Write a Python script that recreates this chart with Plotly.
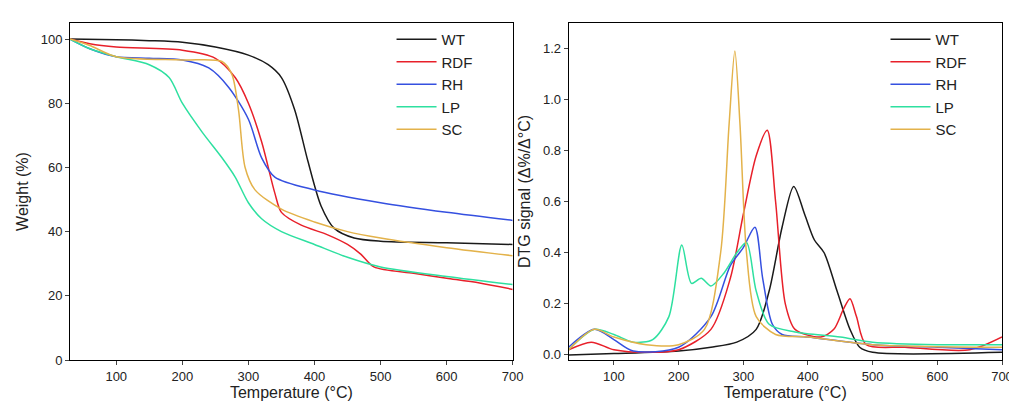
import plotly.graph_objects as go
from plotly.subplots import make_subplots

names = ["WT", "RDF", "RH", "LP", "SC"]
colors = ["#1a1a1a", "#e8202a", "#3550e0", "#2ee0a0", "#e3b24a"]

# TG curves (temperature, weight %)
tg_t = {
    "WT": [30, 100, 150, 200, 250, 300, 330, 350, 370, 390, 410, 430, 460, 500, 600, 700],
    "RDF": [30, 60, 100, 200, 250, 280, 300, 320, 340, 350, 380, 420, 450, 470, 490, 550, 600, 650, 700],
    "RH": [30, 60, 100, 150, 200, 240, 270, 300, 320, 340, 400, 500, 600, 700],
    "LP": [30, 60, 100, 150, 180, 200, 230, 260, 280, 300, 320, 350, 400, 450, 500, 600, 700],
    "SC": [30, 60, 100, 200, 260, 275, 285, 295, 310, 350, 400, 450, 500, 600, 700],
}
tg_w = {
    "WT": [100, 99.8, 99.5, 99, 97.5, 95, 92, 88, 78, 62, 48, 41, 38, 37, 36.5, 36],
    "RDF": [100, 98.5, 97.5, 96.5, 94, 88, 80, 68, 52, 46, 42, 39, 36, 33, 29, 27, 25.5, 24, 22],
    "RH": [100, 97, 94.5, 94, 93.5, 91, 85, 75, 63, 57, 53, 49, 46, 43.5],
    "LP": [100, 97, 94.5, 92, 88, 80, 71, 63, 57, 49, 44, 40, 36, 32, 29, 26, 23.5],
    "SC": [100, 98, 94.5, 93.5, 93, 89, 78, 60, 53, 47, 43, 40, 38, 35, 32.5],
}

# DTG curves (temperature, %/°C)
dtg_t = {
    "WT": [30, 100, 200, 250, 290, 320, 340, 360, 378, 395, 410, 425, 445, 465, 480, 500, 700],
    "RDF": [30, 65, 100, 150, 200, 250, 280, 300, 320, 337, 350, 365, 380, 420, 440, 455, 465, 475, 490, 550, 650, 700],
    "RH": [30, 70, 100, 130, 200, 250, 280, 300, 318, 330, 345, 360, 400, 500, 600, 700],
    "LP": [30, 70, 100, 130, 160, 185, 205, 220, 235, 250, 270, 290, 305, 320, 340, 380, 450, 500, 600, 700],
    "SC": [30, 70, 100, 150, 200, 240, 265, 278, 287, 295, 305, 320, 350, 400, 500, 700],
}
dtg_v = {
    "WT": [0, 0.005, 0.015, 0.03, 0.05, 0.1, 0.25, 0.5, 0.66, 0.55, 0.45, 0.4, 0.25, 0.1, 0.03, 0.01, 0.01],
    "RDF": [0.02, 0.05, 0.02, 0.01, 0.02, 0.1, 0.3, 0.55, 0.78, 0.88, 0.6, 0.2, 0.1, 0.07, 0.1, 0.18, 0.22, 0.15, 0.04, 0.03, 0.02, 0.07],
    "RH": [0.03, 0.1, 0.06, 0.015, 0.03, 0.15, 0.35, 0.42, 0.5, 0.3, 0.12, 0.08, 0.07, 0.04, 0.03, 0.02],
    "LP": [0.02, 0.1, 0.08, 0.05, 0.06, 0.15, 0.43, 0.28, 0.3, 0.27, 0.32, 0.4, 0.44, 0.25, 0.12, 0.09, 0.07, 0.05, 0.04, 0.04],
    "SC": [0.02, 0.1, 0.07, 0.04, 0.04, 0.1, 0.4, 0.9, 1.19, 0.9, 0.4, 0.15, 0.08, 0.07, 0.04, 0.03],
}

fig = make_subplots(rows=1, cols=2, horizontal_spacing=0.05)

for n, c in zip(names, colors):
    fig.add_trace(go.Scatter(x=tg_t[n], y=tg_w[n], mode="lines", name=n,
                             line=dict(color=c, width=1.5, shape="spline", smoothing=0.8),
                             legend="legend"), row=1, col=1)
    fig.add_trace(go.Scatter(x=dtg_t[n], y=dtg_v[n], mode="lines", name=n,
                             line=dict(color=c, width=1.5, shape="spline", smoothing=0.8),
                             legend="legend2"), row=1, col=2)

ax = dict(showline=True, mirror=True, linecolor="black", linewidth=1,
          ticks="outside", ticklen=4, showgrid=False, zeroline=False,
          tickfont=dict(size=13, color="#222"), title_font=dict(size=16, color="#222"))

fig.update_xaxes(ax, range=[30, 700], tickvals=[100, 200, 300, 400, 500, 600, 700],
                 title_text="Temperature (°C)", title_standoff=4)
fig.update_yaxes(ax, title_standoff=8)
fig.update_yaxes(range=[0, 105], dtick=20, title_text="Weight (%)", row=1, col=1)
fig.update_yaxes(range=[-0.02, 1.3], dtick=0.2, tickformat=".1f",
                 title_text="DTG signal (Δ%/Δ°C)", row=1, col=2)
fig.update_xaxes(domain=[0.0, 0.475], row=1, col=1)
fig.update_xaxes(domain=[0.535, 1.0], row=1, col=2)

leg = dict(bgcolor="rgba(0,0,0,0)", font=dict(size=15, color="#222"),
           yanchor="top", y=1.0, xanchor="left", tracegroupgap=0, itemwidth=40)
fig.update_layout(
    width=1017, height=408, template="simple_white",
    font=dict(family="Liberation Sans, Arial, sans-serif"),
    margin=dict(l=62, r=12, t=15, b=56),
    paper_bgcolor="white", plot_bgcolor="white",
    legend=dict(leg, x=0.345),
    legend2=dict(leg, x=0.875),
)

fig.write_html("out.html")
